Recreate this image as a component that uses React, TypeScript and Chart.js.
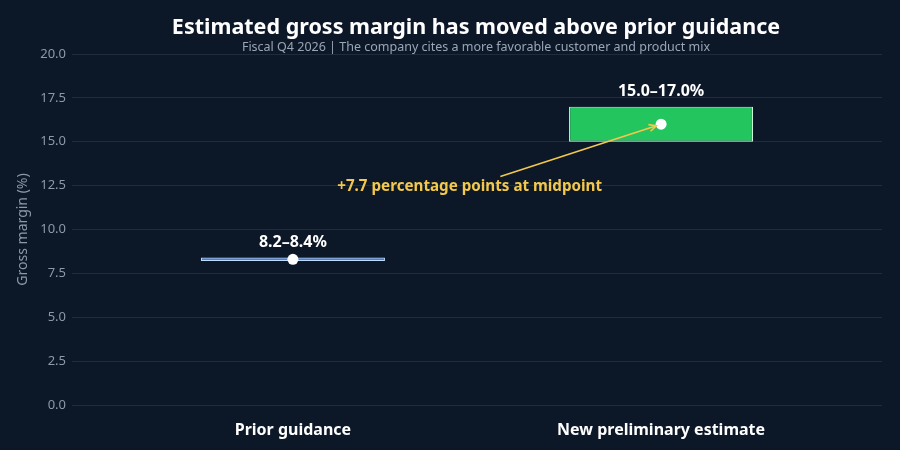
import React, { useEffect, useRef } from "react";
import { Chart, registerables } from "chart.js";

Chart.register(...registerables);

const categories = ["Prior guidance", "New preliminary estimate"];
const rangeLow = [8.2, 15.0];
const rangeHigh = [8.4, 17.0];
const midpoints = [8.3, 16.0];
const rangeLabels = ["8.2–8.4%", "15.0–17.0%"];
const yTicks = [0, 2.5, 5, 7.5, 10, 12.5, 15, 17.5, 20];

const TITLE = "Estimated gross margin has moved above prior guidance";
const SUBTITLE = "Fiscal Q4 2026 | The company cites a more favorable customer and product mix";
const NOTE = "+7.7 percentage points at midpoint";

const FONT = "'Noto Sans', 'Open Sans', sans-serif";
const BG = "#0c1727";

const overlay = {
  id: "overlay",
  afterDatasetsDraw(chart: any) {
    const { ctx, scales } = chart;
    const xs = scales.x;
    const ys = scales.y;
    ctx.save();

    // title and subtitle
    ctx.textAlign = "center";
    ctx.textBaseline = "middle";
    ctx.fillStyle = "#ffffff";
    ctx.font = `bold 21.5px ${FONT}`;
    ctx.fillText(TITLE, 476, 28);
    ctx.fillStyle = "#9aa6b6";
    ctx.font = `12.5px ${FONT}`;
    ctx.fillText(SUBTITLE, 476, 47);

    // range labels above each box
    ctx.fillStyle = "#ffffff";
    ctx.font = `bold 16px ${FONT}`;
    categories.forEach((_, i) => {
      const px = xs.getPixelForValue(i);
      const py = ys.getPixelForValue(rangeHigh[i]);
      ctx.fillText(rangeLabels[i], px, py - 15);
    });

    // midpoint change annotation with arrow
    const tx = xs.getPixelForValue(0.48);
    const ty = ys.getPixelForValue(12.45);
    const hx = xs.getPixelForValue(1);
    const hy = ys.getPixelForValue(midpoints[1]);
    ctx.font = `bold 15.2px ${FONT}`;
    ctx.fillStyle = "#f2c94c";
    ctx.fillText(NOTE, tx, ty);

    const dx = hx - tx;
    const dy = hy - ty;
    const len = Math.hypot(dx, dy);
    const ux = dx / len;
    const uy = dy / len;
    const t0 = 10 / Math.abs(uy);
    const sx = tx + ux * t0;
    const sy = ty + uy * t0;
    const ex = hx - ux * 5;
    const ey = hy - uy * 5;
    ctx.strokeStyle = "#f2c94c";
    ctx.lineWidth = 1.6;
    ctx.beginPath();
    ctx.moveTo(sx, sy);
    ctx.lineTo(ex, ey);
    ctx.stroke();
    const ang = Math.atan2(uy, ux);
    const ah = 8;
    ctx.beginPath();
    ctx.moveTo(ex - ah * Math.cos(ang - 0.45), ey - ah * Math.sin(ang - 0.45));
    ctx.lineTo(ex, ey);
    ctx.lineTo(ex - ah * Math.cos(ang + 0.45), ey - ah * Math.sin(ang + 0.45));
    ctx.stroke();

    ctx.restore();
  },
};

const background = {
  id: "bg",
  beforeDraw(chart: any) {
    const { ctx, width, height } = chart;
    ctx.save();
    ctx.fillStyle = BG;
    ctx.fillRect(0, 0, width, height);
    ctx.restore();
  },
};

export default function App() {
  const ref = useRef<HTMLCanvasElement>(null);

  useEffect(() => {
    if (!ref.current) return;
    const chart = new Chart(ref.current, {
      type: "bar",
      data: {
        datasets: [
          {
            type: "bar",
            data: categories.map((_, i) => ({ x: i, y: [rangeLow[i], rangeHigh[i]] })) as any,
            backgroundColor: ["#3b82f6", "#22c55e"],
            borderColor: ["#bfdbfe", "#cdf5da"],
            borderWidth: 1.2,
            borderSkipped: false,
            barPercentage: 0.5,
            categoryPercentage: 1,
            order: 2,
          },
          {
            type: "scatter",
            data: categories.map((_, i) => ({ x: i, y: midpoints[i] })),
            pointRadius: 5.5,
            pointBackgroundColor: "#ffffff",
            pointBorderColor: "#ffffff",
            pointBorderWidth: 0,
            order: 1,
          } as any,
        ],
      },
      options: {
        animation: false,
        responsive: false,
        layout: { padding: { top: 54, right: 18, left: 0, bottom: 0 } },
        plugins: {
          legend: { display: false },
          tooltip: { enabled: false },
          title: { display: false },
        },
        scales: {
          x: {
            type: "linear",
            offset: false,
            bounds: "data",
            min: -0.6,
            max: 1.6,
            grid: { display: false, offset: false },
            border: { display: false },
            afterBuildTicks: (scale: any) => {
              scale.ticks = categories.map((_, i) => ({ value: i }));
            },
            afterFit: (scale: any) => {
              scale.height = 45;
            },
            ticks: {
              color: "#ffffff",
              font: { family: FONT, size: 16, weight: "bold" },
              padding: 8,
              callback: (v: any) => categories[v] ?? "",
            },
          },
          y: {
            min: 0,
            max: 20,
            afterBuildTicks: (scale: any) => {
              scale.ticks = yTicks.map((v) => ({ value: v }));
            },
            afterFit: (scale: any) => {
              scale.width = 72;
            },
            grid: { color: "#1f2c3d", lineWidth: 1, drawTicks: false },
            border: { display: false },
            ticks: {
              color: "#8d99aa",
              font: { family: FONT, size: 13 },
              padding: 6,
              callback: (v: any) => Number(v).toFixed(1),
            },
            title: {
              display: true,
              text: "Gross margin (%)",
              color: "#8d99aa",
              font: { family: FONT, size: 14 },
              padding: { top: 15, bottom: 4 },
            },
          },
        },
      },
      plugins: [background, overlay],
    });
    return () => chart.destroy();
  }, []);

  return (
    <div style={{ position: "fixed", left: 0, top: 0, width: 900, height: 450, background: BG }}>
      <canvas ref={ref} width={900} height={450} style={{ display: "block" }} />
    </div>
  );
}
